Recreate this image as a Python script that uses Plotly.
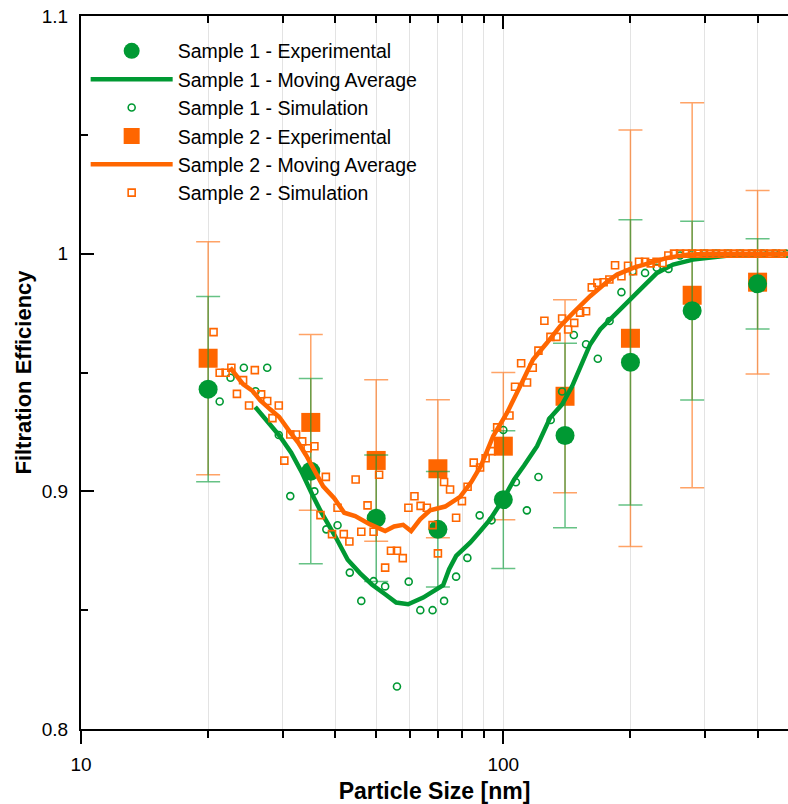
import plotly.graph_objects as go

# ---- Experimental points (mean +/- error) ----
size_exp = [20, 35, 50, 70, 100, 140, 200, 280, 400]
s1_exp = [0.943, 0.9085, 0.8887, 0.884, 0.8965, 0.9235, 0.9543, 0.976, 0.9873]
s1_err = [0.039, 0.039, 0.0266, 0.0243, 0.029, 0.0388, 0.060, 0.0376, 0.019]
s2_exp = [0.956, 0.929, 0.913, 0.9095, 0.919, 0.940, 0.9644, 0.9825, 0.988]
s2_err = [0.049, 0.037, 0.034, 0.029, 0.031, 0.0406, 0.0876, 0.081, 0.0386]

# ---- Moving averages ----
s1_ma_x = [25.85, 29.47, 31.46, 33.41, 35.28, 36.85, 39.99, 42.81, 45.82, 48.92,
           52.51, 55.76, 59.52, 64.59, 72.03, 74.42, 77.32, 83.45, 88.12, 93.07,
           99.9, 106.1, 112.0, 120.2, 129.1, 137.8, 145.5, 152.0, 160.5, 169.5,
           181.9, 196.3, 210.8, 231.2, 252.3, 281.3, 313.8, 349.9, 405.3, 480.0]
s1_ma_y = [0.9355, 0.9235, 0.9163, 0.9076, 0.8987, 0.8920, 0.8811, 0.8712, 0.8655, 0.8607,
           0.8567, 0.8532, 0.8525, 0.8553, 0.8605, 0.8672, 0.8728, 0.8784, 0.8832, 0.8882,
           0.8966, 0.9050, 0.9109, 0.9190, 0.9310, 0.9366, 0.9442, 0.9526, 0.9618, 0.9681,
           0.9737, 0.9793, 0.9849, 0.9919, 0.9954, 0.9975, 0.9986, 0.9994, 0.9998, 0.9999]

s2_ma_x = [22.56, 24.22, 25.44, 26.58, 28.05, 29.47, 31.29, 32.68, 34.14, 35.66,
           37.45, 39.77, 42.0, 44.59, 48.38, 52.51, 55.14, 57.91, 60.49, 63.54,
           67.08, 72.82, 79.0, 83.9, 88.6, 94.6, 99.9, 102.1, 109.6, 117.6,
           126.9, 136.3, 146.3, 160.5, 176.1, 185.9, 202.9, 222.6, 244.2, 272.3,
           308.7, 480.0]
s2_ma_y = [0.9520, 0.9450, 0.9424, 0.9382, 0.9345, 0.9313, 0.9248, 0.9205, 0.9151, 0.9092,
           0.9021, 0.8971, 0.8910, 0.8896, 0.8861, 0.8833, 0.8852, 0.8859, 0.8833, 0.8882,
           0.8920, 0.8936, 0.8977, 0.9038, 0.9109, 0.9232, 0.9303, 0.9331, 0.9442, 0.9555,
           0.9625, 0.9695, 0.9751, 0.9821, 0.9882, 0.9912, 0.9940, 0.9961, 0.9982, 0.9996,
           1.0, 1.0]

# ---- Simulation results ----
s1_sim_x = [21.3, 22.6, 24.3, 25.9, 27.6, 29.4, 31.3, 35.7, 38.1, 40.5,
            43.3, 46.1, 49.3, 52.5, 56.0, 59.7, 63.6, 68.0, 72.4, 77.3,
            82.2, 87.9, 93.8, 100.0, 107.1, 113.7, 121.1, 129.5, 137.8, 146.9,
            157.0, 167.4, 178.5, 190.4, 202.6, 216.6, 230.9, 246.1, 262.1, 280.3,
            299.2, 318.9, 340.4, 363.4, 387.4, 412.0, 439.9, 468.3]
s1_sim_y = [0.9378, 0.9478, 0.9520, 0.9421, 0.9520, 0.9237, 0.8980, 0.9000, 0.8840, 0.8857,
            0.8658, 0.8539, 0.8622, 0.8600, 0.8179, 0.8620, 0.8500, 0.8500, 0.8539, 0.8641,
            0.8720, 0.8899, 0.8878, 0.9258, 0.9038, 0.8920, 0.9060, 0.9300, 0.9420, 0.9658,
            0.9619, 0.9558, 0.9717, 0.9838, 0.9926, 0.9919, 0.9941, 0.9936, 0.9992, 0.9999,
            1.0, 1.0, 1.0, 1.0, 1.0, 1.0, 1.0, 1.0]

s2_sim_x = [20.6, 21.3, 22.0, 22.7, 23.4, 24.2, 25.0, 25.8, 26.7, 27.6,
            28.4, 29.4, 30.3, 31.3, 32.3, 33.4, 34.4, 35.7, 36.9, 38.0,
            39.3, 40.5, 41.9, 43.2, 44.7, 46.1, 47.7, 49.3, 50.8, 52.5,
            54.2, 56.0, 57.8, 59.6, 61.6, 63.7, 65.9, 68.0, 70.0, 72.4,
            74.8, 77.3, 79.8, 82.3, 85.1, 88.1, 90.8, 93.8, 96.7, 103.4,
            106.6, 110.2, 113.8, 117.4, 121.1, 125.1, 129.3, 133.6, 137.8, 142.4,
            147.2, 152.0, 157.0, 162.0, 167.0, 172.8, 178.3, 183.9, 190.4, 197.4,
            202.9, 209.6, 216.6, 223.4, 230.6, 238.2, 245.9, 253.7, 262.1, 270.8,
            279.8, 289.1, 298.7, 308.6, 318.9, 329.5, 340.4, 351.7, 363.4, 375.5,
            388.0, 400.9, 414.2, 428.0, 442.2, 456.9]
s2_sim_y = [0.9670, 0.9499, 0.9499, 0.9520, 0.9410, 0.9468, 0.9361, 0.9510, 0.9408, 0.9380,
            0.9308, 0.9361, 0.9129, 0.9239, 0.9239, 0.9210, 0.9181, 0.9190, 0.8900, 0.9061,
            0.8820, 0.8931, 0.8820, 0.8789, 0.9050, 0.8830, 0.8941, 0.8830, 0.9070, 0.8679,
            0.8750, 0.8750, 0.8719, 0.8931, 0.8979, 0.8939, 0.8931, 0.8858, 0.8739, 0.9039,
            0.9008, 0.8889, 0.8959, 0.9019, 0.9121, 0.9100, 0.9139, 0.9169, 0.9269, 0.9319,
            0.9440, 0.9539, 0.9458, 0.9520, 0.9592, 0.9718, 0.9650, 0.9650, 0.9727, 0.9681,
            0.9709, 0.9752, 0.9758, 0.9858, 0.9877, 0.9880, 0.9891, 0.9951, 0.9905, 0.9949,
            0.9926, 0.9966, 0.9966, 0.9959, 0.9966, 0.9961, 0.9992, 1.0, 1.0, 1.0,
            1.0, 1.0, 1.0, 1.0, 1.0, 1.0, 1.0, 1.0, 1.0, 1.0,
            1.0, 1.0, 1.0, 1.0, 1.0, 1.0]

GREEN = "rgb(0,153,51)"
ORANGE = "rgb(255,102,0)"
GREEN_ERR = "rgba(0,153,51,0.6)"
ORANGE_ERR = "rgba(255,102,0,0.6)"

FONT = "Liberation Sans, Arial, sans-serif"

fig = go.Figure()

# Drawing order: experimental squares, circles, then lines and simulations
fig.add_trace(go.Scatter(
    x=size_exp, y=s2_exp, mode="markers", name="Sample 2 - Experimental",
    legendrank=4,
    marker=dict(symbol="square", size=19, color=ORANGE),
    error_y=dict(type="data", array=s2_err, visible=True, color=ORANGE_ERR,
                 thickness=1.5, width=12),
))
fig.add_trace(go.Scatter(
    x=size_exp, y=s1_exp, mode="markers", name="Sample 1 - Experimental",
    legendrank=1,
    marker=dict(symbol="circle", size=19, color=GREEN),
    error_y=dict(type="data", array=s1_err, visible=True, color=GREEN_ERR,
                 thickness=1.5, width=12),
))
fig.add_trace(go.Scatter(
    x=s1_ma_x, y=s1_ma_y, mode="lines", name="Sample 1 - Moving Average",
    legendrank=2, line=dict(color=GREEN, width=4.5),
))
fig.add_trace(go.Scatter(
    x=s1_sim_x, y=s1_sim_y, mode="markers", name="Sample 1 - Simulation",
    legendrank=3,
    marker=dict(symbol="circle-open", size=7, color=GREEN, line=dict(width=1.6)),
))
fig.add_trace(go.Scatter(
    x=s2_ma_x, y=s2_ma_y, mode="lines", name="Sample 2 - Moving Average",
    legendrank=5, line=dict(color=ORANGE, width=4.5),
))
fig.add_trace(go.Scatter(
    x=s2_sim_x, y=s2_sim_y, mode="markers", name="Sample 2 - Simulation",
    legendrank=6,
    marker=dict(symbol="square-open", size=7, color=ORANGE, line=dict(width=1.6)),
))

x_range = [1, 2.6741]
minor_x = [20, 30, 40, 50, 60, 70, 80, 90, 200, 300, 400]

fig.update_layout(
    width=788, height=804, autosize=False,
    margin=dict(l=81, r=0, t=16, b=75),
    paper_bgcolor="white", plot_bgcolor="white",
    font=dict(family=FONT, size=18, color="black"),
    showlegend=True,
    legend=dict(
        x=0.0066, y=0.978, xanchor="left", yanchor="top",
        bgcolor="rgba(0,0,0,0)", borderwidth=0,
        font=dict(family=FONT, size=19.5, color="black"),
        itemwidth=82, tracegroupgap=0,
    ),
    xaxis=dict(
        type="log", range=x_range,
        tickvals=[10, 100], ticktext=["10", "100"],
        ticks="outside", ticklen=13, tickwidth=2, tickcolor="black",
        showline=True, linewidth=2, linecolor="black",
        showgrid=True, gridcolor="#e3e3e3", gridwidth=1,
        zeroline=False, ticklabelstandoff=4,
        tickfont=dict(family=FONT, size=19),
        minor=dict(tickvals=minor_x, ticks="outside", ticklen=7, tickwidth=2,
                   tickcolor="black", showgrid=True, gridcolor="#e3e3e3", gridwidth=1),
        title=dict(text="<b>Particle Size [nm]</b>", standoff=10,
                   font=dict(family=FONT, size=23)),
    ),
    xaxis2=dict(
        type="log", range=x_range, overlaying="x", side="top",
        tickvals=[10, 100], showticklabels=False,
        ticks="inside", ticklen=13, tickwidth=2, tickcolor="black",
        showline=True, linewidth=2, linecolor="black",
        showgrid=False, zeroline=False,
        minor=dict(tickvals=minor_x, ticks="inside", ticklen=7, tickwidth=2,
                   tickcolor="black", showgrid=False),
    ),
    yaxis=dict(
        range=[0.8, 1.1],
        tickvals=[0.8, 0.9, 1.0, 1.1], ticktext=["0.8", "0.9", "1", "1.1"],
        ticks="inside", ticklen=13, tickwidth=2, tickcolor="black",
        showline=True, linewidth=2, linecolor="black",
        showgrid=False, zeroline=False, ticklabelstandoff=7,
        tickfont=dict(family=FONT, size=19),
        minor=dict(tickvals=[0.85, 0.95, 1.05], ticks="inside", ticklen=7,
                   tickwidth=2, tickcolor="black", showgrid=False),
        title=dict(text="<b>Filtration Efficiency</b>", standoff=4,
                   font=dict(family=FONT, size=22)),
    ),
)

# empty trace so the top axis is rendered
fig.add_trace(go.Scatter(x=[], y=[], xaxis="x2", showlegend=False, hoverinfo="skip"))

fig.write_html("out.html")
